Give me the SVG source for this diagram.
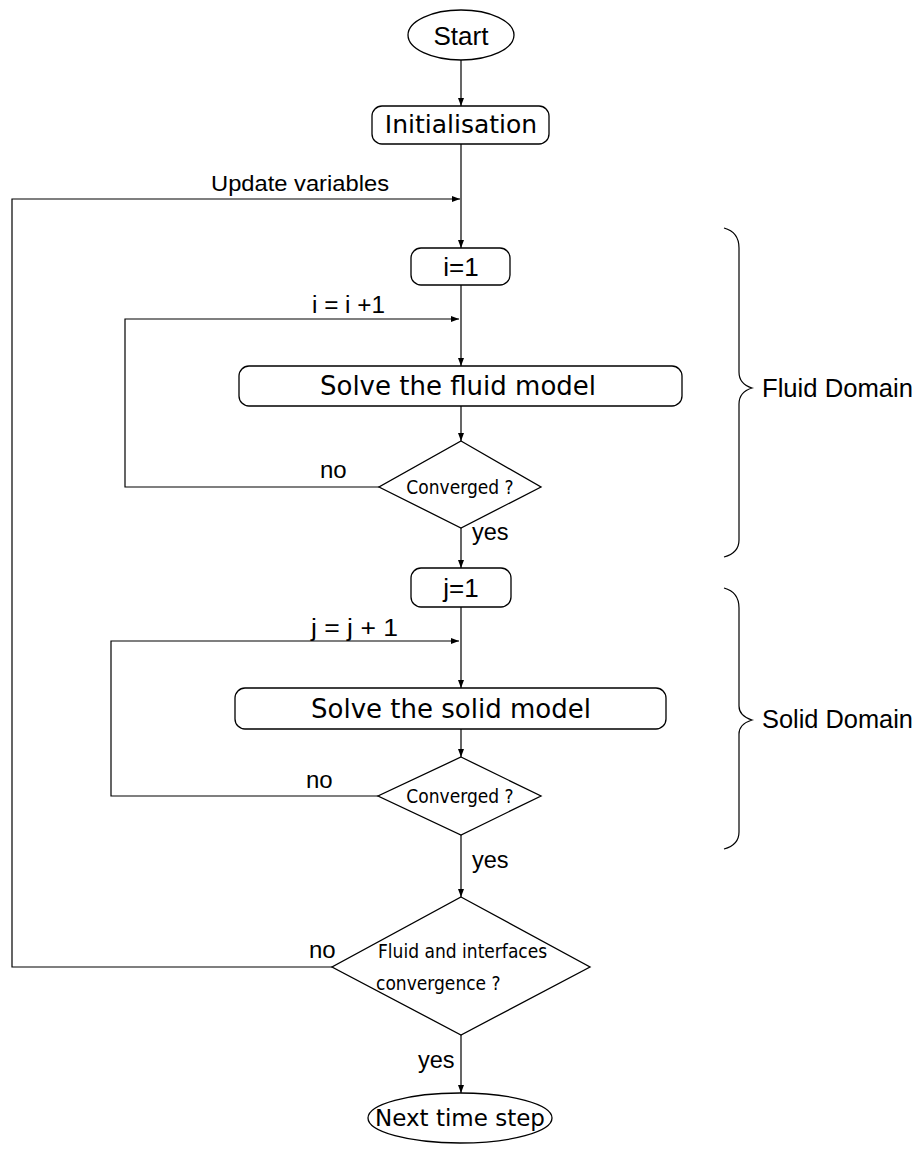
<svg xmlns="http://www.w3.org/2000/svg" width="922" height="1150" viewBox="0 0 922 1150">
<defs>
<marker id="arr" markerWidth="9" markerHeight="7" refX="8" refY="3" orient="auto" markerUnits="userSpaceOnUse">
<path d="M0,0 L8,3 L0,6 z" fill="#000"/>
</marker>
<style>
.shape{fill:#fff;stroke:#000;stroke-width:1.3}
.con{fill:none;stroke:#000;stroke-width:1.2;marker-end:url(#arr)}
.brace{fill:none;stroke:#000;stroke-width:1.2}
.dv{font-family:"DejaVu Sans",sans-serif;fill:#000;text-anchor:middle}
.dvc{font-family:"DejaVu Sans Condensed","DejaVu Sans",sans-serif;fill:#000;font-size:19px}
.lb{font-family:"Liberation Sans",Arial,sans-serif;fill:#000}
</style>
</defs>
<rect width="922" height="1150" fill="#fff"/>
<g id="connectors">
<line class="con" x1="461" y1="60" x2="461" y2="106"/>
<line class="con" x1="461" y1="144" x2="461" y2="248"/>
<path class="con" d="M332,967 H12 V199 H460"/>
<line class="con" x1="461" y1="285" x2="461" y2="366"/>
<path class="con" d="M379,487 H125 V319 H459"/>
<line class="con" x1="461" y1="406" x2="461" y2="441"/>
<line class="con" x1="461" y1="528" x2="461" y2="568"/>
<line class="con" x1="461" y1="607" x2="461" y2="688"/>
<path class="con" d="M378,796 H111 V641 H459"/>
<line class="con" x1="461" y1="729" x2="461" y2="757"/>
<line class="con" x1="461" y1="835" x2="461" y2="897"/>
<line class="con" x1="461" y1="1035" x2="461" y2="1093"/>
<text class="lb" x="211" y="191" font-size="22" textLength="178" lengthAdjust="spacingAndGlyphs">Update variables</text>
<text class="lb" x="312" y="313" font-size="23" textLength="73" lengthAdjust="spacingAndGlyphs">i = i +1</text>
<text class="lb" x="320" y="478" font-size="24">no</text>
<text class="lb" x="472" y="540" font-size="23.5">yes</text>
<text class="lb" x="311" y="636" font-size="23" textLength="87" lengthAdjust="spacingAndGlyphs">j = j + 1</text>
<text class="lb" x="306" y="788" font-size="24">no</text>
<text class="lb" x="472" y="868" font-size="23.5">yes</text>
<text class="lb" x="309" y="958" font-size="24">no</text>
<text class="lb" x="418" y="1068" font-size="23.5">yes</text>
</g>
<g id="start">
<ellipse class="shape" cx="461" cy="35" rx="53" ry="25"/>
<text class="lb" x="461" y="45" font-size="26" text-anchor="middle">Start</text>
</g>
<g id="init">
<rect class="shape" x="372" y="106" width="177" height="38" rx="10"/>
<text class="dv" x="461" y="133" font-size="25">Initialisation</text>
</g>
<g id="i1">
<rect class="shape" x="411" y="248" width="99" height="37" rx="10"/>
<text class="lb" x="461" y="276" font-size="26" text-anchor="middle">i=1</text>
</g>
<g id="solveFluid">
<rect class="shape" x="239" y="366" width="443" height="40" rx="10"/>
<text class="dv" x="458" y="395" font-size="26">Solve the fluid model</text>
</g>
<g id="conv1">
<polygon class="shape" points="461,441 541,487 461,528 379,487"/>
<text class="dvc" x="460" y="494" text-anchor="middle">Converged ?</text>
</g>
<g id="j1">
<rect class="shape" x="411" y="568" width="100" height="39" rx="10"/>
<text class="lb" x="461" y="597" font-size="26" text-anchor="middle">j=1</text>
</g>
<g id="solveSolid">
<rect class="shape" x="235" y="688" width="431" height="41" rx="10"/>
<text class="dv" x="451" y="718" font-size="26">Solve the solid model</text>
</g>
<g id="conv2">
<polygon class="shape" points="461,757 541,796 461,835 378,796"/>
<text class="dvc" x="460" y="803" text-anchor="middle">Converged ?</text>
</g>
<g id="conv3">
<polygon class="shape" points="461,897 590,967 461,1035 332,967"/>
<text class="dvc" x="378" y="958">Fluid and interfaces</text>
<text class="dvc" x="376" y="990">convergence ?</text>
</g>
<g id="next">
<ellipse class="shape" cx="460" cy="1118" rx="92" ry="25"/>
<text class="dv" x="460" y="1126" font-size="23">Next time step</text>
</g>
<g id="fluidDomain">
<path class="brace" d="M724,228 Q739,232 739,248 V372 Q739,384 752,388 Q739,392 739,404 V540 Q739,553 724,557"/>
<text class="lb" x="762" y="397" font-size="25" textLength="151" lengthAdjust="spacingAndGlyphs">Fluid Domain</text>
</g>
<g id="solidDomain">
<path class="brace" d="M724,588 Q739,592 739,608 V706 Q739,716 752,720 Q739,724 739,734 V832 Q739,845 724,849"/>
<text class="lb" x="762" y="728" font-size="25" textLength="151" lengthAdjust="spacingAndGlyphs">Solid Domain</text>
</g>
</svg>
